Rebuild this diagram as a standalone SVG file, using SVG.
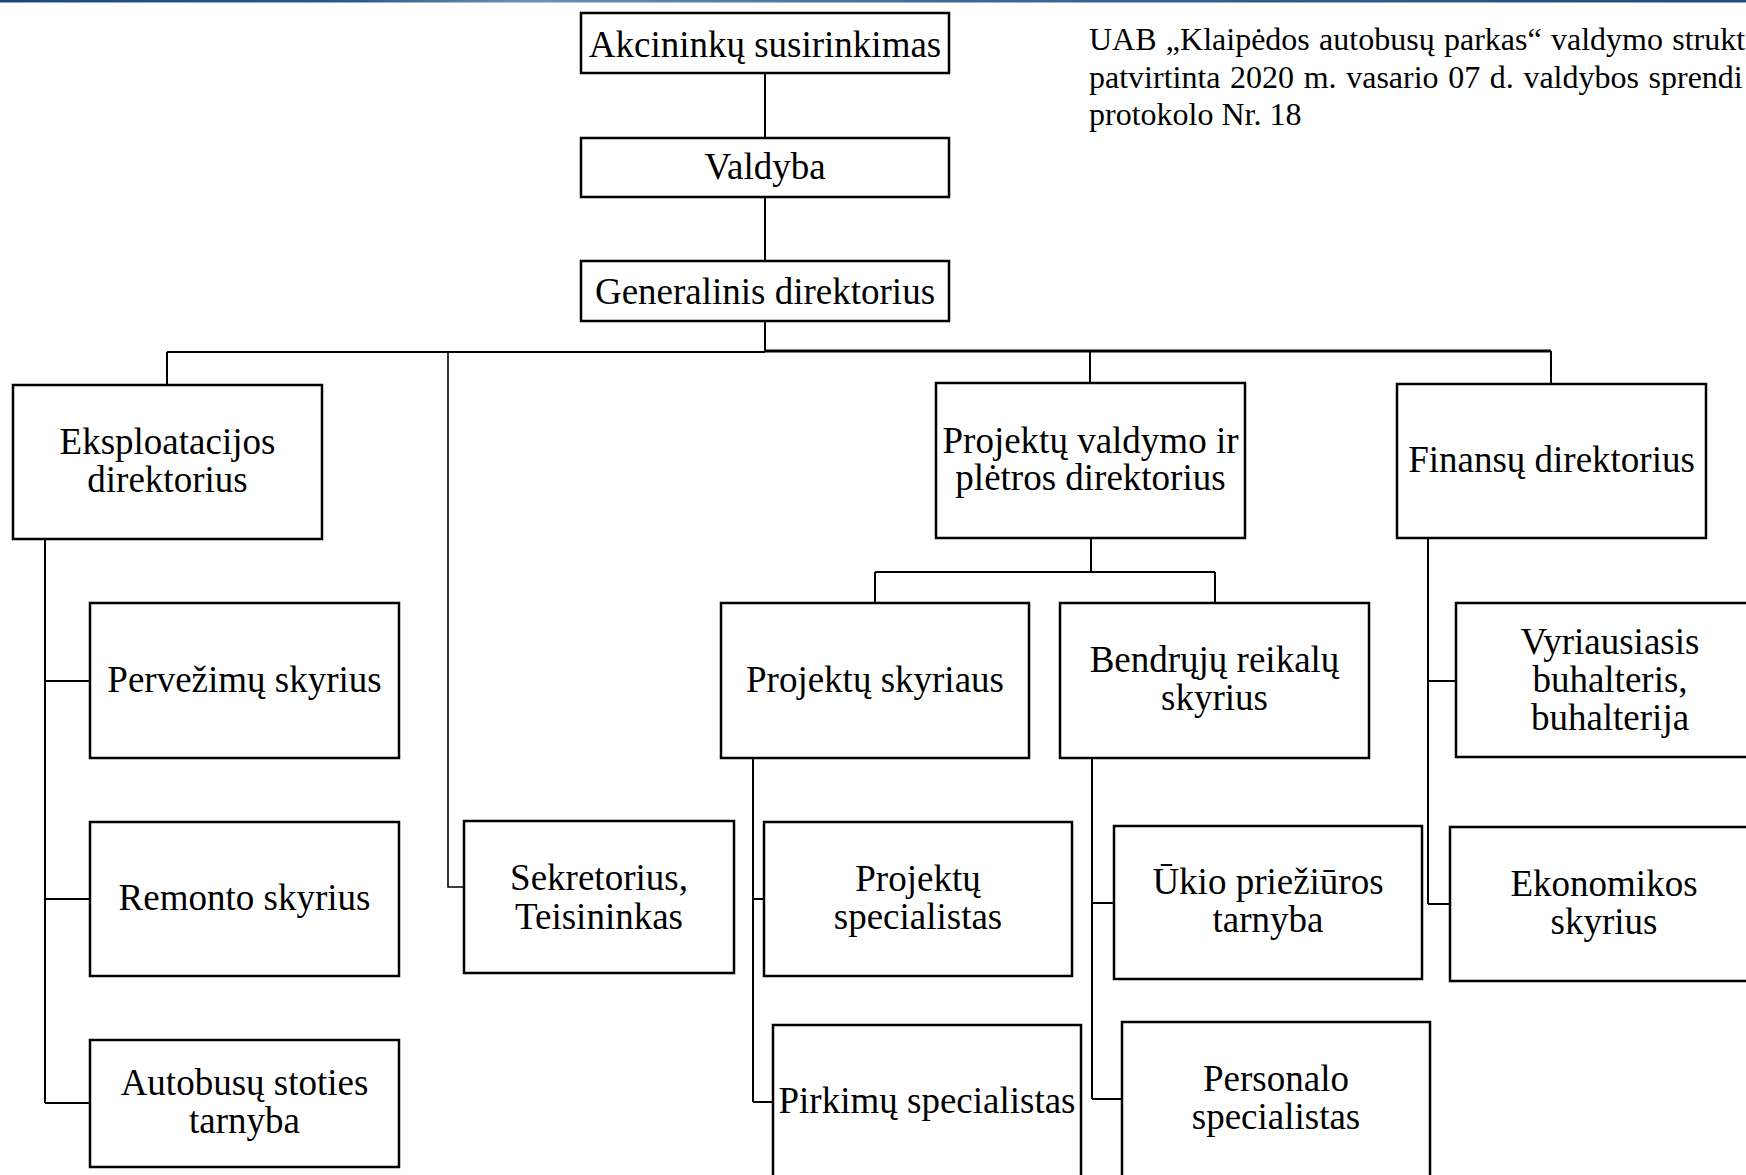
<svg xmlns="http://www.w3.org/2000/svg" width="1746" height="1175" viewBox="0 0 1746 1175">
<style>
  .box { fill: #ffffff; stroke: #000000; stroke-width: 2.5; }
  .t { font-family: "Liberation Serif", "Times New Roman", serif; font-size: 37px; fill: #000000; text-anchor: middle; }
  .note { font-family: "Liberation Serif", "Times New Roman", serif; font-size: 32px; fill: #000000; }
  .c { fill: none; stroke: #000000; stroke-width: 2; }
  .thick { stroke-width: 3; }
  .thin { stroke-width: 1.6; }
</style>
<defs>
  <linearGradient id="bar" x1="0" y1="0" x2="1" y2="0">
    <stop offset="0" stop-color="#1d4b78"/>
    <stop offset="0.2" stop-color="#2a5a88"/>
    <stop offset="0.3" stop-color="#6a90b8"/>
    <stop offset="0.55" stop-color="#3a6898"/>
    <stop offset="1" stop-color="#1f4d7a"/>
  </linearGradient>
</defs>
<rect x="0" y="0" width="1746" height="1175" fill="#ffffff"/>
<rect x="0" y="0" width="1746" height="2.5" fill="url(#bar)"/>

<g id="connectors">
  <path class="c" d="M765 73 V138"/>
  <path class="c" d="M765 197 V261"/>
  <path class="c" d="M765 321 V352"/>
  <path class="c" d="M167 352 H765"/>
  <path class="c thick" d="M765 351 H1551"/>
  <path class="c" d="M167 352 V385"/>
  <path class="c thin" d="M448 352 V887 H464"/>
  <path class="c" d="M1090 351 V383"/>
  <path class="c" d="M1551 351 V384"/>
  <path class="c" d="M45 539 V1103"/>
  <path class="c" d="M45 681 H90"/>
  <path class="c" d="M45 899 H90"/>
  <path class="c" d="M45 1103 H90"/>
  <path class="c" d="M1091 538 V572"/>
  <path class="c" d="M875 572 H1215"/>
  <path class="c" d="M875 572 V603"/>
  <path class="c" d="M1215 572 V603"/>
  <path class="c" d="M753 758 V1102"/>
  <path class="c" d="M753 899 H764"/>
  <path class="c" d="M753 1102 H773"/>
  <path class="c" d="M1092 758 V1099"/>
  <path class="c" d="M1092 903 H1114"/>
  <path class="c" d="M1092 1099 H1122"/>
  <path class="c" d="M1428 538 V904"/>
  <path class="c" d="M1428 681 H1456"/>
  <path class="c" d="M1428 904 H1450"/>
</g>

<g id="note">
  <text class="note" x="1089" y="50" word-spacing="1.3">UAB „Klaipėdos autobusų parkas“ valdymo strukt</text>
  <text class="note" x="1089" y="88" word-spacing="1.6">patvirtinta 2020 m. vasario 07 d. valdybos sprendi</text>
  <text class="note" x="1089" y="125">protokolo Nr. 18</text>
</g>

<g id="akcininku">
  <rect class="box" x="581" y="13" width="368" height="60"/>
  <text class="t" x="765" y="57">Akcininkų susirinkimas</text>
</g>
<g id="valdyba">
  <rect class="box" x="581" y="138" width="368" height="59"/>
  <text class="t" x="765" y="179">Valdyba</text>
</g>
<g id="generalinis">
  <rect class="box" x="581" y="261" width="368" height="60"/>
  <text class="t" x="765" y="304">Generalinis direktorius</text>
</g>
<g id="eksploatacijos">
  <rect class="box" x="13" y="385" width="309" height="154"/>
  <text class="t" x="167.5" y="454">Eksploatacijos</text>
  <text class="t" x="167.5" y="492">direktorius</text>
</g>
<g id="pervezimu">
  <rect class="box" x="90" y="603" width="309" height="155"/>
  <text class="t" x="244.5" y="692">Pervežimų skyrius</text>
</g>
<g id="remonto">
  <rect class="box" x="90" y="822" width="309" height="154"/>
  <text class="t" x="244.5" y="910">Remonto skyrius</text>
</g>
<g id="autobusu">
  <rect class="box" x="90" y="1040" width="309" height="127"/>
  <text class="t" x="244.5" y="1095">Autobusų stoties</text>
  <text class="t" x="244.5" y="1133">tarnyba</text>
</g>
<g id="sekretorius">
  <rect class="box" x="464" y="821" width="270" height="152"/>
  <text class="t" x="599" y="890">Sekretorius,</text>
  <text class="t" x="599" y="929">Teisininkas</text>
</g>
<g id="projektu-valdymo">
  <rect class="box" x="936" y="383" width="309" height="155"/>
  <text class="t" x="1090.5" y="453">Projektų valdymo ir</text>
  <text class="t" x="1090.5" y="490">plėtros direktorius</text>
</g>
<g id="finansu">
  <rect class="box" x="1397" y="384" width="309" height="154"/>
  <text class="t" x="1551.5" y="472">Finansų direktorius</text>
</g>
<g id="projektu-skyriaus">
  <rect class="box" x="721" y="603" width="308" height="155"/>
  <text class="t" x="875" y="692">Projektų skyriaus</text>
</g>
<g id="bendruju">
  <rect class="box" x="1060" y="603" width="309" height="155"/>
  <text class="t" x="1214.5" y="672">Bendrųjų reikalų</text>
  <text class="t" x="1214.5" y="710">skyrius</text>
</g>
<g id="vyriausiasis">
  <rect class="box" x="1456" y="603" width="308" height="154"/>
  <text class="t" x="1610" y="654">Vyriausiasis</text>
  <text class="t" x="1610" y="692">buhalteris,</text>
  <text class="t" x="1610" y="730">buhalterija</text>
</g>
<g id="ekonomikos">
  <rect class="box" x="1450" y="827" width="308" height="154"/>
  <text class="t" x="1604" y="896">Ekonomikos</text>
  <text class="t" x="1604" y="934">skyrius</text>
</g>
<g id="projektu-specialistas">
  <rect class="box" x="764" y="822" width="308" height="154"/>
  <text class="t" x="918" y="891">Projektų</text>
  <text class="t" x="918" y="929">specialistas</text>
</g>
<g id="pirkimu">
  <rect class="box" x="773" y="1025" width="308" height="155"/>
  <text class="t" x="927" y="1113">Pirkimų specialistas</text>
</g>
<g id="ukio">
  <rect class="box" x="1114" y="826" width="308" height="153"/>
  <text class="t" x="1268" y="894">Ūkio priežiūros</text>
  <text class="t" x="1268" y="932">tarnyba</text>
</g>
<g id="personalo">
  <rect class="box" x="1122" y="1022" width="308" height="155"/>
  <text class="t" x="1276" y="1091">Personalo</text>
  <text class="t" x="1276" y="1129">specialistas</text>
</g>
</svg>
